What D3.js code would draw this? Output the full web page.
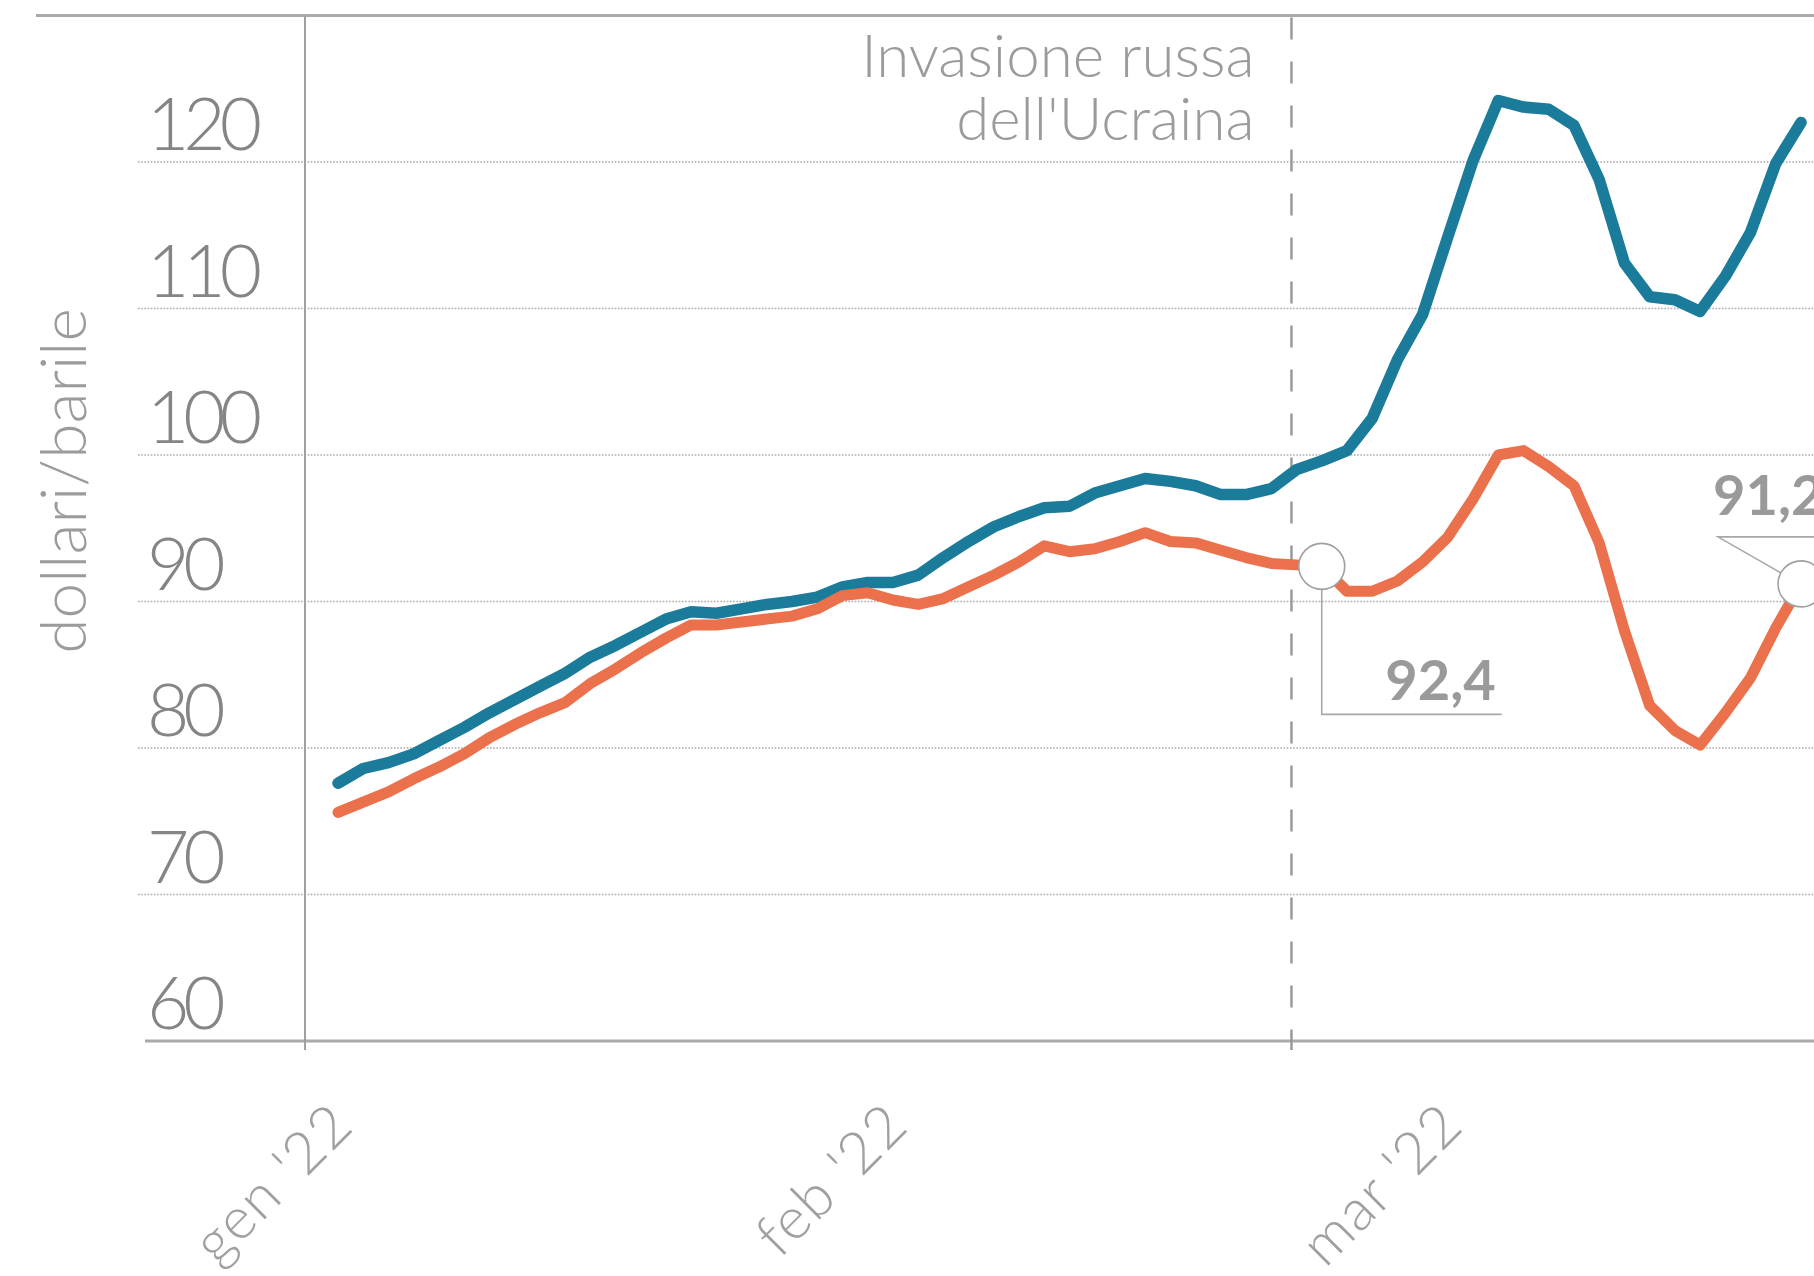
<!DOCTYPE html>
<html>
<head>
<meta charset="utf-8">
<script src="https://cdn.jsdelivr.net/npm/d3@7"></script>
<style>
  html, body { margin: 0; padding: 0; background: #fff; }
  svg { display: block; }
  text { font-family: Lato, "Open Sans", sans-serif; }
</style>
</head>
<body>
<svg id="chart" width="1814" height="1276"></svg>
<script>
// Daily prices, dollars per barrel, first trading days of 2022 onward
const blueSeries = [
  77.6, 78.6, 79.0, 79.6, 80.5, 81.4, 82.4, 83.3, 84.2, 85.1,
  86.2, 87.0, 87.9, 88.8, 89.3, 89.2, 89.5, 89.8, 90.0, 90.3,
  91.0, 91.3, 91.3, 91.8, 93.0, 94.1, 95.1, 95.8, 96.4, 96.5,
  97.4, 97.9, 98.4, 98.2, 97.9, 97.3, 97.3, 97.7, 99.0, 99.6,
  100.3, 102.5, 106.5, 109.6, 114.9, 120.1, 124.2, 123.75, 123.6, 122.5,
  118.8, 113.1, 110.8, 110.6, 109.8, 112.2, 115.2, 119.9, 122.7
];
const orangeSeries = [
  75.6, 76.3, 77.0, 77.9, 78.7, 79.6, 80.7, 81.6, 82.4, 83.1,
  84.4, 85.4, 86.5, 87.5, 88.4, 88.4, 88.6, 88.8, 89.0, 89.5,
  90.4, 90.6, 90.1, 89.8, 90.2, 91.0, 91.8, 92.7, 93.8, 93.4,
  93.6, 94.1, 94.7, 94.1, 94.0, 93.5, 93.0, 92.6, 92.5, 92.4,
  90.7, 90.7, 91.4, 92.7, 94.4, 97.0, 100.0, 100.3, 99.2, 97.9,
  94.0, 88.0, 82.9, 81.2, 80.2, 82.4, 84.8, 88.2, 91.2
];

// Month labels and the trading-day index each one sits at
const monthLabels = ["gen '22", "feb '22", "mar '22"];
const monthIndex = [0, 22, 44];

// Value axis
const yTicks = [60, 70, 80, 90, 100, 110, 120];
const yTitle = "dollari/barile";

// Event marker (position on the trading-day axis)
const eventIndex = 37.8;
const eventLines = ["Invasione russa", "dell'Ucraina"];

// Highlighted points on the orange series
const callouts = [
  { index: 39, label: "92,4" },
  { index: 58, label: "91,2" }
];

const W = 1814, H = 1276;
const svg = d3.select("#chart");

const x = d3.scaleLinear().domain([0, blueSeries.length - 1]).range([338, 1801]);
const y = d3.scaleLinear().domain([60, 130]).range([1041, 15.5]);

const grey = "#9b9b9b";

// dotted horizontal gridlines
svg.append("g")
  .selectAll("line")
  .data(yTicks.filter(d => d > 60))
  .join("line")
  .attr("x1", 138).attr("x2", W)
  .attr("y1", d => y(d)).attr("y2", d => y(d))
  .attr("stroke", "#a9a9a9")
  .attr("stroke-width", 1.6)
  .attr("stroke-dasharray", "1.6 1.6");

// frame: top rule, baseline, left vertical rule
svg.append("line")
  .attr("x1", 36).attr("x2", W)
  .attr("y1", y(130)).attr("y2", y(130))
  .attr("stroke", "#aaaaaa").attr("stroke-width", 3);
svg.append("line")
  .attr("x1", 145).attr("x2", W)
  .attr("y1", y(60)).attr("y2", y(60))
  .attr("stroke", "#aaaaaa").attr("stroke-width", 3);
svg.append("line")
  .attr("x1", 305).attr("x2", 305)
  .attr("y1", y(130)).attr("y2", y(60) + 9)
  .attr("stroke", "#a0a0a0").attr("stroke-width", 2);

// y tick labels
svg.append("g")
  .selectAll("text")
  .data(yTicks)
  .join("text")
  .attr("x", 147)
  .attr("y", d => y(d) - 12)
  .attr("font-size", 73)
  .attr("font-weight", 300)
  .attr("letter-spacing", -6)
  .attr("fill", "#858585")
  .text(d => d);

// y title
svg.append("text")
  .attr("transform", `translate(86,481) rotate(-90)`)
  .attr("text-anchor", "middle")
  .attr("font-size", 64)
  .attr("font-weight", 300)
  .attr("fill", grey)
  .text(yTitle);

// x month labels
svg.append("g")
  .selectAll("text")
  .data(monthIndex)
  .join("text")
  .attr("transform", d => `translate(${x(d) + 18},1128) rotate(-45)`)
  .attr("text-anchor", "end")
  .attr("font-size", 58)
  .attr("font-weight", 300)
  .attr("letter-spacing", 1.5)
  .attr("fill", "#a0a0a0")
  .text((d, i) => monthLabels[i]);

// event dashed line and its label
svg.append("line")
  .attr("x1", x(eventIndex)).attr("x2", x(eventIndex))
  .attr("y1", y(130) + 2).attr("y2", y(60) + 9)
  .attr("stroke", "#9a9a9a").attr("stroke-width", 2.5)
  .attr("stroke-dasharray", "22 22");
svg.append("g")
  .selectAll("text")
  .data(eventLines)
  .join("text")
  .attr("x", x(eventIndex) - 37)
  .attr("y", (d, i) => 77 + i * 63)
  .attr("text-anchor", "end")
  .attr("font-size", 60)
  .attr("font-weight", 300)
  .attr("fill", grey)
  .text(d => d);

// series lines
const line = d3.line().x((d, i) => x(i)).y(d => y(d));
svg.append("path")
  .datum(blueSeries)
  .attr("d", line)
  .attr("fill", "none")
  .attr("stroke", "#1a7b9b")
  .attr("stroke-width", 11.5)
  .attr("stroke-linejoin", "round")
  .attr("stroke-linecap", "round");
svg.append("path")
  .datum(orangeSeries)
  .attr("d", line)
  .attr("fill", "none")
  .attr("stroke", "#ea714b")
  .attr("stroke-width", 11)
  .attr("stroke-linejoin", "round")
  .attr("stroke-linecap", "round");

// callouts on the orange series
const r = 23;
const c1 = callouts[0], c2 = callouts[1];
const p1 = [x(c1.index), y(orangeSeries[c1.index])];
const p2 = [x(c2.index), y(orangeSeries[c2.index])];

svg.append("path")
  .attr("d", `M${p1[0]},${p1[1] + r} V${p1[1] + 148} H${p1[0] + 180}`)
  .attr("fill", "none").attr("stroke", "#a8a8a8").attr("stroke-width", 1.6);
svg.append("path")
  .attr("d", `M${p2[0] - 20},${p2[1] - 11} L${p2[0] - 83},${p2[1] - 47} H${W}`)
  .attr("fill", "none").attr("stroke", "#a8a8a8").attr("stroke-width", 1.6);

svg.append("g")
  .selectAll("circle")
  .data([p1, p2])
  .join("circle")
  .attr("cx", d => d[0]).attr("cy", d => d[1]).attr("r", r)
  .attr("fill", "#fff")
  .attr("stroke", "#a0a0a0").attr("stroke-width", 1.6);

svg.append("text")
  .attr("x", p1[0] + 174).attr("y", p1[1] + 134)
  .attr("text-anchor", "end")
  .attr("font-size", 56).attr("font-weight", 700)
  .attr("fill", "#9a9a9a")
  .text(c1.label);
svg.append("text")
  .attr("x", p2[0] - 88).attr("y", p2[1] - 69)
  .attr("font-size", 56).attr("font-weight", 700)
  .attr("fill", "#9a9a9a")
  .text(c2.label);
</script>
</body>
</html>
